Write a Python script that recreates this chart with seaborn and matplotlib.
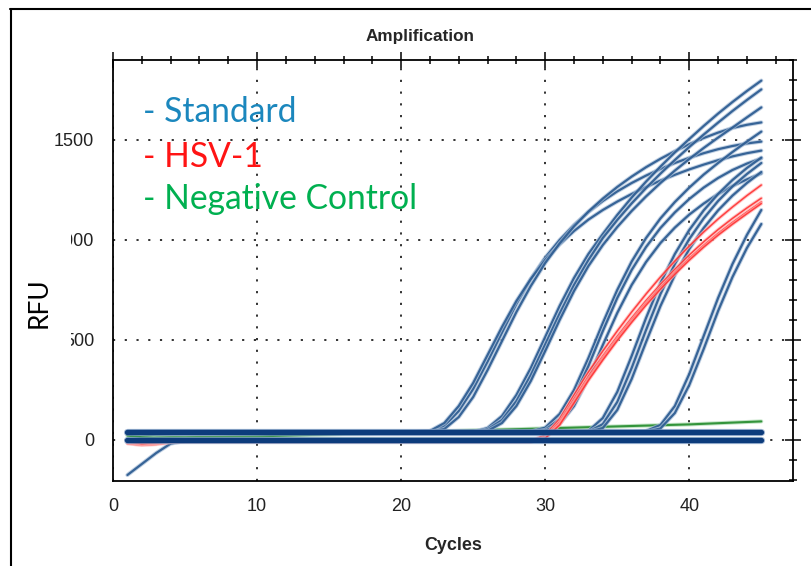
import matplotlib
matplotlib.use("Agg")
import matplotlib.pyplot as plt
import matplotlib.patheffects as pe
import pandas as pd
import seaborn as sns
from matplotlib import font_manager
from matplotlib.lines import Line2D
from matplotlib.patches import Rectangle
from matplotlib.ticker import MultipleLocator

# ---------------------------------------------------------------- data
cycles = list(range(1, 46))

# Standard dilution series (RFU per cycle, cycles 1..45)
std_g1a = [40, 40, 40, 40, 40, 40, 40, 40, 40, 40, 40, 40, 40, 40, 40, 40, 40, 40, 40, 40, 40,
           42, 70, 145, 255, 392, 537, 680, 805, 912, 1000, 1075, 1140, 1195, 1243, 1285, 1322,
           1355, 1385, 1411, 1434, 1454, 1470, 1483, 1492]
std_g1b = [40, 40, 40, 40, 40, 40, 40, 40, 40, 40, 40, 40, 40, 40, 40, 40, 40, 40, 40, 40, 40,
           45, 85, 170, 285, 425, 565, 695, 805, 900, 978, 1045, 1102, 1150, 1192, 1230, 1265,
           1297, 1326, 1353, 1377, 1399, 1418, 1434, 1447]
std_g1c = [40, 40, 40, 40, 40, 40, 40, 40, 40, 40, 40, 40, 40, 40, 40, 40, 40, 40, 40, 40, 40,
           40, 55, 115, 215, 350, 495, 640, 770, 885, 983, 1068, 1142, 1207, 1265, 1317, 1364,
           1406, 1444, 1479, 1510, 1537, 1560, 1576, 1588]
std_g2a = [40, 40, 40, 40, 40, 40, 40, 40, 40, 40, 40, 40, 40, 40, 40, 40, 40, 40, 40, 40, 40,
           40, 40, 40, 40, 60, 120, 225, 360, 515, 670, 810, 930, 1030, 1125, 1212, 1292, 1367,
           1438, 1505, 1570, 1632, 1690, 1745, 1797]
std_g2b = [40, 40, 40, 40, 40, 40, 40, 40, 40, 40, 40, 40, 40, 40, 40, 40, 40, 40, 40, 40, 40,
           40, 40, 40, 40, 52, 100, 195, 325, 478, 632, 775, 900, 1010, 1100, 1183, 1260, 1332,
           1400, 1465, 1527, 1587, 1645, 1700, 1753]
std_g2c = [40, 40, 40, 40, 40, 40, 40, 40, 40, 40, 40, 40, 40, 40, 40, 40, 40, 40, 40, 40, 40,
           40, 40, 40, 40, 45, 85, 170, 295, 445, 600, 745, 870, 975, 1065, 1145, 1218, 1285,
           1347, 1405, 1460, 1512, 1562, 1613, 1663]
std_g3a = [40, 40, 40, 40, 40, 40, 40, 40, 40, 40, 40, 40, 40, 40, 40, 40, 40, 40, 40, 40, 40,
           40, 40, 40, 40, 40, 40, 40, 42, 62, 130, 250, 410, 585, 750, 892, 1010, 1108, 1190,
           1262, 1327, 1385, 1440, 1492, 1542]
std_g3b = [40, 40, 40, 40, 40, 40, 40, 40, 40, 40, 40, 40, 40, 40, 40, 40, 40, 40, 40, 40, 40,
           40, 40, 40, 40, 40, 40, 40, 40, 50, 105, 215, 370, 545, 710, 850, 965, 1060, 1138,
           1205, 1262, 1310, 1350, 1382, 1408]
std_g3c = [40, 40, 40, 40, 40, 40, 40, 40, 40, 40, 40, 40, 40, 40, 40, 40, 40, 40, 40, 40, 40,
           40, 40, 40, 40, 40, 40, 40, 40, 45, 80, 170, 310, 475, 635, 775, 890, 985, 1062,
           1127, 1182, 1230, 1270, 1303, 1333]
std_g4a = [40, 40, 40, 40, 40, 40, 40, 40, 40, 40, 40, 40, 40, 40, 40, 40, 40, 40, 40, 40, 40,
           40, 40, 40, 40, 40, 40, 40, 40, 40, 40, 40, 45, 110, 240, 420, 610, 785, 930, 1050,
           1148, 1230, 1300, 1360, 1412]
std_g4b = [40, 40, 40, 40, 40, 40, 40, 40, 40, 40, 40, 40, 40, 40, 40, 40, 40, 40, 40, 40, 40,
           40, 40, 40, 40, 40, 40, 40, 40, 40, 40, 40, 40, 80, 190, 360, 550, 730, 880, 1005,
           1108, 1195, 1268, 1330, 1385]
std_g4c = [40, 40, 40, 40, 40, 40, 40, 40, 40, 40, 40, 40, 40, 40, 40, 40, 40, 40, 40, 40, 40,
           40, 40, 40, 40, 40, 40, 40, 40, 40, 40, 40, 40, 60, 150, 305, 490, 670, 825, 955,
           1060, 1148, 1222, 1285, 1340]
std_g5a = [40, 40, 40, 40, 40, 40, 40, 40, 40, 40, 40, 40, 40, 40, 40, 40, 40, 40, 40, 40, 40,
           40, 40, 40, 40, 40, 40, 40, 40, 40, 40, 40, 40, 40, 40, 40, 45, 75, 170, 330, 520,
           710, 880, 1025, 1150]
std_g5b = [40, 40, 40, 40, 40, 40, 40, 40, 40, 40, 40, 40, 40, 40, 40, 40, 40, 40, 40, 40, 40,
           40, 40, 40, 40, 40, 40, 40, 40, 40, 40, 40, 40, 40, 40, 40, 40, 58, 135, 275, 455,
           645, 815, 960, 1080]
std_flat_hi = [42, 42, 42, 42, 42, 42, 42, 42, 42, 42, 42, 42, 42, 42, 42, 42, 42, 42, 42, 42,
               42, 42, 42, 42, 42, 42, 42, 42, 42, 42, 42, 42, 42, 42, 42, 42, 42, 42, 42, 42,
               42, 42, 42, 42, 42]
std_flat_lo = [2, 2, 2, 2, 2, 2, 2, 2, 2, 2, 2, 2, 2, 2, 2, 2, 2, 2, 2, 2, 2, 2, 2, 2, 2, 2,
               2, 2, 2, 2, 2, 2, 2, 2, 2, 2, 2, 2, 2, 2, 2, 2, 2, 2, 2]
std_dip = [-175, -120, -65, -18, -5, -3, -3, -3, -3, -3, -3, -3, -3, -3, -3, -3, -3, -3, -3,
           -3, -3, -3, -3, -3, -3, -3, -3, -3, -3, -3, -3, -3, -3, -3, -3, -3, -3, -3, -3, -3,
           -3, -3, -3, -3, -3]

# HSV-1 samples
hsv_1 = [-18, -26, -22, -12, -6, -6, -6, -6, -6, -6, -6, -6, -6, -6, -6, -6, -6, -6, -6, -6,
         -6, -6, -6, -6, -6, -6, -6, -6, -6, 25, 105, 225, 340, 445, 545, 640, 730, 815, 895,
         970, 1040, 1105, 1165, 1222, 1275]
hsv_2 = [-15, -22, -18, -10, -4, -4, -4, -4, -4, -4, -4, -4, -4, -4, -4, -4, -4, -4, -4, -4,
         -4, -4, -4, -4, -4, -4, -4, -4, -4, 15, 90, 205, 318, 420, 518, 610, 697, 778, 853,
         925, 991, 1052, 1108, 1160, 1209]
hsv_3 = [-12, -20, -16, -9, -8, -8, -8, -8, -8, -8, -8, -8, -8, -8, -8, -8, -8, -8, -8, -8,
         -8, -8, -8, -8, -8, -8, -8, -8, -8, 10, 80, 192, 305, 408, 505, 597, 683, 763, 838,
         908, 973, 1033, 1088, 1140, 1190]
hsv_4 = [-10, -18, -14, -8, -10, -10, -10, -10, -10, -10, -10, -10, -10, -10, -10, -10, -10,
         -10, -10, -10, -10, -10, -10, -10, -10, -10, -10, -10, -10, 8, 75, 185, 298, 400, 497,
         588, 674, 754, 829, 899, 964, 1024, 1079, 1131, 1182]

# Negative controls
neg_1 = [30, 22, 17, 15, 14, 15, 15, 16, 17, 18, 20, 22, 24, 26, 28, 30, 32, 34, 36, 38, 40,
         42, 44, 46, 48, 50, 52, 54, 56, 58, 60, 62, 64, 66, 68, 70, 72, 74, 76, 78, 81, 84,
         87, 90, 93]
neg_2 = [22, 14, 9, 7, 6, 6, 6, 6, 6, 6, 5, 5, 5, 5, 5, 5, 5, 5, 4, 4, 4, 4, 4, 4, 4, 4, 3,
         3, 3, 3, 3, 3, 3, 3, 2, 2, 2, 2, 2, 2, 2, 2, 2, 2, 2]
neg_3 = [5, 0, -4, -5, -5, -5, -5, -5, -5, -5, -5, -5, -5, -5, -5, -5, -5, -5, -5, -5, -5,
         -5, -5, -5, -5, -5, -5, -5, -5, -5, -5, -5, -5, -5, -5, -5, -5, -5, -5, -4, -3, -2,
         -1, 0, 0]

standard_wells = {
    "S1a": std_g1a, "S1b": std_g1b, "S1c": std_g1c,
    "S2a": std_g2a, "S2b": std_g2b, "S2c": std_g2c,
    "S3a": std_g3a, "S3b": std_g3b, "S3c": std_g3c,
    "S4a": std_g4a, "S4b": std_g4b, "S4c": std_g4c,
    "S5a": std_g5a, "S5b": std_g5b, "S0d": std_dip,
}
baseline_wells = {"B1": std_flat_hi, "B2": std_flat_lo}
hsv_wells = {"H1": hsv_1, "H2": hsv_2, "H3": hsv_3, "H4": hsv_4}
neg_wells = {"N1": neg_1, "N2": neg_2, "N3": neg_3}

legend_labels = ["- Standard", "- HSV-1", "- Negative Control"]
legend_colors = ["#1b87bd", "#ff1414", "#00b050"]


def long_form(wells, sample):
    rows = []
    for name, values in wells.items():
        for c, v in zip(cycles, values):
            rows.append({"cycle": c, "rfu": v, "well": name, "sample": sample})
    return pd.DataFrame(rows)


df = pd.concat([
    long_form(standard_wells, "Standard"),
    long_form(hsv_wells, "HSV-1"),
    long_form(neg_wells, "Negative Control"),
    long_form(baseline_wells, "Baseline"),
], ignore_index=True)

# ---------------------------------------------------------------- style
sns.set_theme(style="white")
installed = {f.name for f in font_manager.fontManager.ttflist}
narrow = "Liberation Sans Narrow" if "Liberation Sans Narrow" in installed else "Liberation Sans"
plt.rcParams["font.family"] = [narrow, "DejaVu Sans"]

W, H = 811, 566
fig = plt.figure(figsize=(W / 100, H / 100), dpi=100)
fig.patch.set_facecolor("white")
ax = fig.add_axes([113 / W, 1 - 481 / H, 680 / W, 421 / H])
ax.set_facecolor("white")

# (sample, core colour, width, alpha, z-order, soft edge colour)
layers = [
    ("Negative Control", "#238c2c", 1.5, 0.9, 2, "#a9d8ad"),
    ("Standard", "#2f5e93", 1.6, 0.95, 3, "#a8bed8"),
    ("HSV-1", "#ff2a2a", 1.1, 0.85, 4, "#ffb0b0"),
    ("Baseline", "#0d3c7c", 3.8, 1.0, 5, "#7f9cc4"),
]
for sample, color, lw, alpha, z, halo in layers:
    sub = df[df["sample"] == sample]
    sns.lineplot(data=sub, x="cycle", y="rfu", units="well", estimator=None,
                 color=color, linewidth=lw, alpha=alpha, ax=ax, legend=False,
                 sort=False, zorder=z,
                 path_effects=[pe.Stroke(linewidth=lw + 1.4, foreground=halo, alpha=0.7),
                               pe.Normal()])

ax.set_xlim(0, 47.2)
ax.set_ylim(-205, 1900)
ax.set_xticks([0, 10, 20, 30, 40])
ax.set_yticks([0, 500, 1000, 1500])
ax.xaxis.set_minor_locator(MultipleLocator(2))
ax.yaxis.set_minor_locator(MultipleLocator(100))
ax.tick_params(which="both", direction="inout", top=True, right=True,
               labeltop=False, labelright=False, color="black", width=1.1)
ax.tick_params(which="major", length=12, labelsize=13, labelcolor="#222222")
ax.tick_params(which="minor", length=6)
ax.tick_params(axis="y", which="major", pad=7.5)
ax.tick_params(axis="x", which="major", pad=6)
for s in ax.spines.values():
    s.set_color("black")
    s.set_linewidth(1.3)
ax.grid(True, which="major", color="#222222", linestyle=(0, (1.2, 5.3)), linewidth=1.3)
ax.set_axisbelow(True)

ax.set_xlabel("Cycles", fontsize=12.9, fontweight="bold", labelpad=16)
ax.set_ylabel("")

fig.text(420 / W, 1 - 37 / H, "Amplification", ha="center", va="center",
         fontsize=12.3, fontweight="bold")

# white label box at the left edge, with the rotated axis title on it
fig.add_artist(Rectangle((12 / W, 1 - 348 / H), 58.5 / W, 120 / H, transform=fig.transFigure,
                         facecolor="white", edgecolor="none", zorder=6))
fig.text(39 / W, 1 - 303 / H, "RFU", rotation=90, ha="center", va="center",
         fontsize=19, family=["Lato", "DejaVu Sans"], color="black", zorder=7)

for label, color, base in zip(legend_labels, legend_colors, [122, 167, 209]):
    fig.text(143 / W, 1 - base / H, label, ha="left", va="baseline", color=color,
             fontsize=24.2, family=["Lato", "DejaVu Sans"], zorder=7)

# outer frame (top and left edges)
fig.add_artist(Line2D([10 / W, 1], [1 - 9 / H, 1 - 9 / H], transform=fig.transFigure,
                      color="black", linewidth=1.5, zorder=8))
fig.add_artist(Line2D([11 / W, 11 / W], [0, 1 - 9 / H], transform=fig.transFigure,
                      color="black", linewidth=1.5, zorder=8))

fig.savefig("out.png", dpi=100)
